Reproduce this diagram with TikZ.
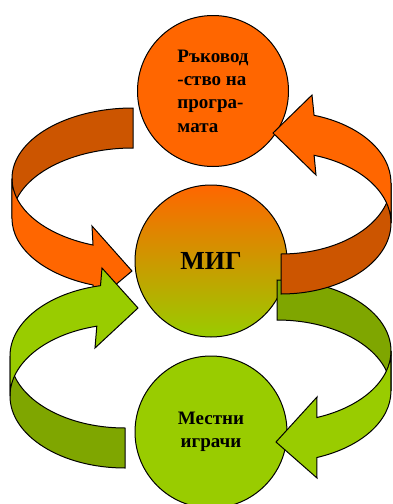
\documentclass[tikz,border=0pt]{standalone}
\usepackage{fontspec}
\setmainfont{Liberation Serif}
\usepackage{tikz}
\definecolor{orngA}{HTML}{FF6600}
\definecolor{orngB}{HTML}{CC5500}
\definecolor{grnA}{HTML}{99CC00}
\definecolor{grnB}{HTML}{7FA600}

\begin{document}
\begin{tikzpicture}[x=1pt, y=-1pt,
  blob/.style={circle, draw, line width=1pt, inner sep=0pt},
  band/.style={draw, line width=1pt}]
\useasboundingbox (0,0) rectangle (393,504);

\node[blob, fill=orngA, minimum size=151pt, align=left,
  font=\bfseries\fontsize{19}{23.3}\selectfont] (mgmt) at (213,91) {Ръковод\\-ство на\\програ-\\мата};
\node[blob, top color=orngA, bottom color=grnA, minimum size=152pt,
  font=\bfseries\fontsize{26}{30}\selectfont] (mig) at (211,261) {МИГ};
\node[blob, fill=grnA, minimum size=152pt, align=center,
  font=\bfseries\fontsize{19}{23.3}\selectfont] (local) at (211,432) {Местни\\играчи};

% right green ribbon: MIG -> local players
\draw[band, fill=grnB] (277,280) arc[start angle=270, end angle=360, x radius=114, y radius=71]
  -- (391,391) arc[start angle=360, end angle=270, x radius=114, y radius=71] -- cycle;
\draw[band, fill=grnA] (391,351) arc[start angle=0, end angle=69.5, x radius=114, y radius=71]
  -- (317,397) -- (276,442) -- (317,478) -- (316.9,457.5)
  arc[start angle=69.5, end angle=0, x radius=114, y radius=71] -- cycle;

% right orange ribbon: MIG -> management
\draw[band, fill=orngB] (281,254) arc[start angle=90, end angle=0, x radius=110, y radius=71]
  -- (391,223) arc[start angle=0, end angle=90, x radius=110, y radius=71] -- cycle;
\draw[band, fill=orngA] (391,183) arc[start angle=0, end angle=-72.5, x radius=110, y radius=71]
  -- (312,95) -- (273,133) -- (316,175) -- (314.1,155.3)
  arc[start angle=-72.5, end angle=0, x radius=110, y radius=71] -- cycle;

% left orange ribbon: management -> MIG
\draw[band, fill=orngB] (133,108) arc[start angle=270, end angle=180, x radius=121, y radius=70.5]
  -- (12,218.5) arc[start angle=180, end angle=270, x radius=121, y radius=70.5] -- cycle;
\draw[band, fill=orngA] (12,178.5) arc[start angle=180, end angle=109.3, x radius=121, y radius=70.5]
  -- (92,226) -- (132,271) -- (95,302) -- (93,285)
  arc[start angle=109.3, end angle=180, x radius=121, y radius=70.5] -- cycle;

% left green ribbon: local players -> MIG
\draw[band, fill=grnB] (125,428) arc[start angle=90, end angle=180, x radius=115, y radius=72]
  -- (10,396) arc[start angle=180, end angle=90, x radius=115, y radius=72] -- cycle;
\draw[band, fill=grnA] (10,356) arc[start angle=180, end angle=257.7, x radius=115, y radius=72]
  -- (102,268) -- (138,308) -- (95,348) -- (96.8,326.2)
  arc[start angle=255.8, end angle=180, x radius=115, y radius=72] -- cycle;
\end{tikzpicture}
\end{document}
